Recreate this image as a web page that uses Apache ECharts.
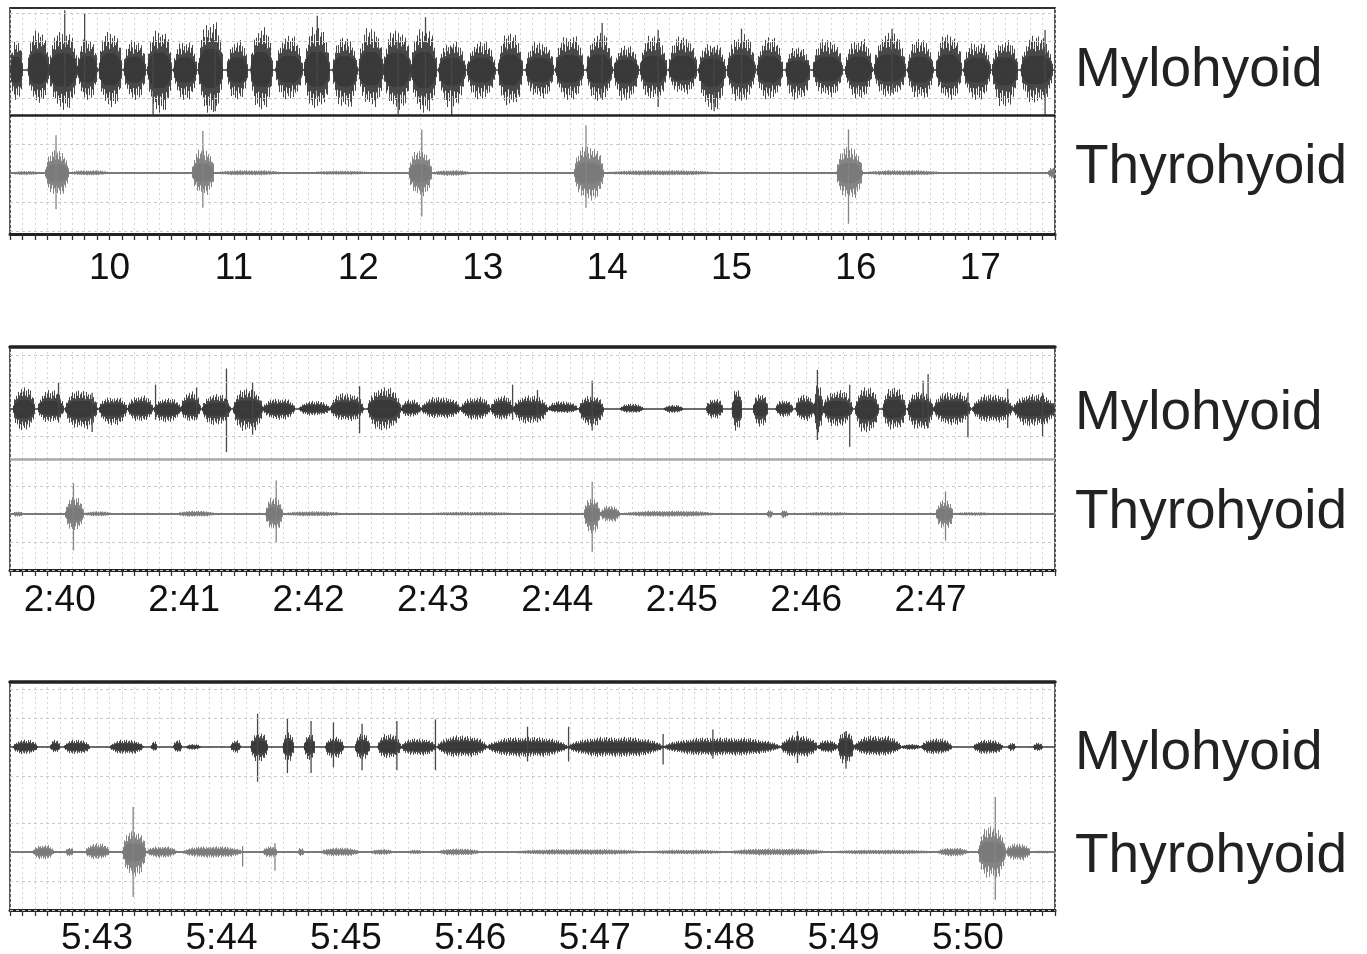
<!DOCTYPE html>
<html>
<head>
<meta charset="utf-8">
<script src="https://cdn.jsdelivr.net/npm/echarts@6/dist/echarts.min.js"></script>
<style>
  html, body { margin: 0; background: #fff; }
  #main { width: 1367px; height: 954px; }
</style>
</head>
<body>
<div id="main"></div>
<script>
// muscle names shown at the right of every panel
var channels = ['Mylohyoid', 'Thyrohyoid']

// tick labels (seconds) for each panel
var p1TickValues = [10, 11, 12, 13, 14, 15, 16, 17]
var p1TickLabels = ['10', '11', '12', '13', '14', '15', '16', '17']
var p2TickValues = [160, 161, 162, 163, 164, 165, 166, 167]
var p2TickLabels = ['2:40', '2:41', '2:42', '2:43', '2:44', '2:45', '2:46', '2:47']
var p3TickValues = [343, 344, 345, 346, 347, 348, 349, 350]
var p3TickLabels = ['5:43', '5:44', '5:45', '5:46', '5:47', '5:48', '5:49', '5:50']

// EMG activity: [start s, end s, amplitude up, amplitude down]
var p1MyloBursts = [
  [9.20, 9.30, 1.1, 1.05], [9.34, 9.51, 1.45, 1.15], [9.51, 9.74, 1.4, 1.4], [9.74, 9.90, 1.15, 1.05],
  [9.91, 10.10, 1.4, 1.3], [10.11, 10.29, 1.1, 1.05], [10.30, 10.50, 1.45, 1.5], [10.51, 10.70, 1.05, 1.05],
  [10.71, 10.91, 1.75, 1.5], [10.94, 11.11, 1.05, 1.05], [11.13, 11.31, 1.5, 1.4], [11.33, 11.55, 1.2, 1.05],
  [11.56, 11.77, 1.5, 1.4], [11.79, 11.99, 1.15, 1.4], [12.00, 12.20, 1.5, 1.3], [12.20, 12.42, 1.45, 1.4],
  [12.42, 12.63, 1.5, 1.5], [12.64, 12.86, 1.0, 1.3], [12.87, 13.10, 1.0, 1.05], [13.12, 13.32, 1.3, 1.3],
  [13.34, 13.57, 1.0, 1.0], [13.58, 13.81, 1.25, 1.05], [13.83, 14.04, 1.3, 1.1], [14.05, 14.25, 0.85, 1.1],
  [14.26, 14.48, 1.2, 1.05], [14.49, 14.72, 1.2, 0.85], [14.73, 14.95, 0.95, 1.4], [14.96, 15.19, 1.25, 1.1],
  [15.20, 15.41, 1.15, 1.05], [15.43, 15.63, 0.8, 1.1], [15.65, 15.89, 1.1, 0.95], [15.91, 16.13, 1.1, 1.0],
  [16.14, 16.40, 1.3, 0.95], [16.41, 16.62, 1.1, 1.05], [16.64, 16.85, 1.3, 1.05], [16.86, 17.08, 1.0, 1.05],
  [17.09, 17.30, 1.05, 1.3], [17.32, 17.58, 1.2, 1.2]
]
// single large spikes: [time s, up, down]
var p1MyloSpikes = [
  [9.64, 2.1, 0.9], [9.80, 2.0, 0.8], [10.35, 0.9, 1.55], [10.85, 1.0, 1.45], [11.67, 1.9, 0.9],
  [12.32, 1.0, 1.55], [12.54, 1.85, 1.0], [12.75, 0.8, 1.6], [13.96, 1.65, 1.0], [14.41, 1.4, 1.3],
  [14.86, 0.8, 1.45], [15.08, 1.45, 1.0], [16.29, 1.45, 0.8], [17.52, 1.4, 1.6]
]
var p1ThyroBursts = [
  [9.20, 9.45, 0.07, 0.07], [9.48, 9.67, 0.8, 0.8], [9.67, 10.00, 0.1, 0.08], [10.66, 10.84, 0.85, 0.75],
  [10.84, 11.40, 0.1, 0.08], [11.60, 12.10, 0.08, 0.06], [12.40, 12.59, 0.8, 0.8], [12.59, 12.90, 0.1, 0.1],
  [13.73, 13.97, 0.95, 0.95], [13.97, 14.90, 0.1, 0.08], [15.84, 16.05, 0.9, 0.9], [16.05, 16.70, 0.1, 0.08],
  [17.54, 17.60, 0.2, 0.2]
]
var p1ThyroSpikes = [[9.57, 1.3, 1.25], [10.75, 1.45, 1.2], [12.51, 1.5, 1.5], [13.83, 1.65, 1.2], [15.94, 1.5, 1.75]]

var p2MyloBursts = [
  [159.62, 159.80, 0.8, 0.8], [159.82, 160.03, 0.7, 0.5], [160.04, 160.30, 0.7, 0.75], [160.31, 160.54, 0.45, 0.6],
  [160.54, 160.75, 0.5, 0.45], [160.75, 160.97, 0.4, 0.5], [160.97, 161.13, 0.65, 0.45], [161.14, 161.37, 0.55, 0.6],
  [161.39, 161.63, 0.75, 0.85], [161.63, 161.89, 0.4, 0.4], [161.92, 162.17, 0.3, 0.25], [162.17, 162.44, 0.6, 0.45],
  [162.47, 162.74, 0.8, 0.8], [162.74, 162.90, 0.35, 0.3], [162.90, 163.22, 0.45, 0.35], [163.22, 163.46, 0.45, 0.4],
  [163.46, 163.64, 0.5, 0.4], [163.64, 163.92, 0.5, 0.55], [163.92, 164.16, 0.3, 0.15], [164.17, 164.37, 0.5, 0.65],
  [164.50, 164.69, 0.2, 0.15], [164.85, 165.01, 0.15, 0.15], [165.19, 165.33, 0.4, 0.35], [165.40, 165.48, 0.8, 0.8],
  [165.57, 165.69, 0.6, 0.65], [165.75, 165.89, 0.35, 0.3], [165.91, 166.06, 0.55, 0.45], [166.06, 166.13, 0.9, 0.9],
  [166.13, 166.37, 0.7, 0.65], [166.39, 166.58, 0.8, 0.9], [166.61, 166.80, 0.8, 0.8], [166.81, 167.02, 0.65, 0.8],
  [167.02, 167.32, 0.65, 0.6], [167.33, 167.66, 0.55, 0.5], [167.66, 168.00, 0.55, 0.65]
]
var p2MyloSpikes = [
  [159.99, 1.0, 0.5], [160.26, 0.6, 0.85], [160.77, 0.9, 0.4], [161.10, 0.8, 0.4], [161.34, 1.5, 1.6],
  [161.55, 1.0, 0.95], [162.41, 0.85, 0.9], [163.64, 0.9, 0.4], [163.84, 0.7, 0.5], [164.28, 1.05, 0.8],
  [166.09, 1.45, 1.15], [166.35, 0.9, 1.4], [166.94, 1.05, 0.6], [166.98, 1.3, 0.7], [167.30, 0.6, 1.05],
  [167.62, 0.75, 0.7], [167.90, 0.6, 1.0]
]
var p2ThyroBursts = [
  [159.62, 159.70, 0.1, 0.1], [160.04, 160.19, 0.6, 0.6], [160.19, 160.42, 0.1, 0.08], [160.93, 161.25, 0.12, 0.1],
  [161.65, 161.79, 0.6, 0.6], [161.79, 162.28, 0.1, 0.08], [162.93, 163.70, 0.08, 0.06], [164.21, 164.34, 0.6, 0.7],
  [164.34, 164.50, 0.3, 0.3], [164.50, 165.29, 0.12, 0.1], [165.68, 165.73, 0.15, 0.15], [165.79, 165.85, 0.15, 0.15],
  [165.93, 166.40, 0.07, 0.06], [167.04, 167.18, 0.5, 0.55], [167.18, 167.50, 0.07, 0.06]
]
var p2ThyroSpikes = [[160.11, 1.1, 1.3], [161.74, 1.2, 1.0], [164.28, 1.15, 1.35], [167.12, 0.8, 0.95]]

var p3MyloBursts = [
  [342.32, 342.52, 0.25, 0.25], [342.62, 342.70, 0.25, 0.2], [342.73, 342.94, 0.25, 0.25], [343.10, 343.37, 0.25, 0.25],
  [343.43, 343.48, 0.2, 0.15], [343.61, 343.68, 0.25, 0.2], [343.71, 343.83, 0.1, 0.1], [344.07, 344.15, 0.25, 0.2],
  [344.23, 344.37, 0.5, 0.5], [344.49, 344.58, 0.5, 0.5], [344.66, 344.75, 0.45, 0.45], [344.83, 344.98, 0.35, 0.4],
  [345.07, 345.19, 0.45, 0.45], [345.25, 345.44, 0.45, 0.4], [345.44, 345.72, 0.3, 0.3], [345.73, 346.13, 0.4, 0.35],
  [346.13, 346.78, 0.35, 0.35], [346.78, 347.55, 0.35, 0.35], [347.55, 348.49, 0.33, 0.3], [348.49, 348.79, 0.4, 0.35],
  [348.79, 348.95, 0.25, 0.2], [348.95, 349.08, 0.55, 0.6], [349.08, 349.46, 0.4, 0.3], [349.46, 349.62, 0.1, 0.1],
  [349.62, 349.87, 0.3, 0.25], [350.04, 350.28, 0.25, 0.25], [350.32, 350.38, 0.15, 0.15], [350.52, 350.60, 0.15, 0.15]
]
var p3MyloSpikes = [
  [344.29, 1.15, 1.2], [344.53, 1.0, 0.9], [344.72, 0.9, 0.9], [344.90, 0.85, 0.7], [345.13, 0.8, 0.8],
  [345.41, 0.9, 0.8], [345.72, 0.95, 0.8], [346.46, 0.7, 0.5], [346.79, 0.7, 0.5], [347.55, 0.45, 0.6],
  [347.95, 0.6, 0.4], [348.63, 0.55, 0.55], [349.02, 0.55, 0.75]
]
var p3ThyroBursts = [
  [342.48, 342.65, 0.25, 0.25], [342.74, 342.81, 0.15, 0.15], [342.90, 343.10, 0.3, 0.25], [343.20, 343.39, 0.75, 0.85],
  [343.39, 343.64, 0.2, 0.2], [343.68, 344.17, 0.2, 0.2], [344.33, 344.45, 0.2, 0.2], [344.61, 344.66, 0.15, 0.15],
  [344.79, 345.11, 0.15, 0.15], [345.19, 345.38, 0.1, 0.1], [345.49, 345.62, 0.08, 0.08], [345.73, 346.08, 0.12, 0.12],
  [346.32, 347.42, 0.1, 0.1], [347.42, 348.06, 0.08, 0.08], [348.06, 348.87, 0.12, 0.12], [348.87, 349.75, 0.08, 0.08],
  [349.75, 350.00, 0.15, 0.15], [350.08, 350.30, 0.9, 0.95], [350.30, 350.50, 0.3, 0.3], [350.50, 350.69, 0.05, 0.05]
]
var p3ThyroSpikes = [[343.29, 1.55, 1.55], [344.17, 0.2, 0.5], [344.43, 0.3, 0.65], [350.22, 1.9, 1.65]]

// layout of the three panels (pixels and axis ranges)
var panels = [
  { top: 8, height: 226, xMin: 9.2, xMax: 17.6, myloY: [-5.754, 2.175], thyroY: [-2.103, 5.69],
    sep: -1.58, sepColor: '#222', topWidth: 1.5, labelMargin: 16, myloText: 71, thyroText: 168,
    ticks: p1TickValues, labels: p1TickLabels,
    mylo: p1MyloBursts, myloSpikes: p1MyloSpikes, thyro: p1ThyroBursts, thyroSpikes: p1ThyroSpikes },
  { top: 347, height: 223, xMin: 159.6, xMax: 168.0, myloY: [-5.963, 2.296], thyroY: [-2.0, 5.964],
    sep: -1.85, sepColor: '#a8a8a8', topWidth: 3.5, labelMargin: 12, myloText: 414, thyroText: 513,
    ticks: p2TickValues, labels: p2TickLabels,
    mylo: p2MyloBursts, myloSpikes: p2MyloSpikes, thyro: p2ThyroBursts, thyroSpikes: p2ThyroSpikes },
  { top: 682, height: 228, xMin: 342.3, xMax: 350.7, myloY: [-5.621, 2.241], thyroY: [-2.0, 5.862],
    sep: null, sepColor: null, topWidth: 3.5, labelMargin: 10, myloText: 754, thyroText: 857,
    ticks: p3TickValues, labels: p3TickLabels,
    mylo: p3MyloBursts, myloSpikes: p3MyloSpikes, thyro: p3ThyroBursts, thyroSpikes: p3ThyroSpikes }
]

var myloColors = { line: '#484848', core: '#393939', base: '#3c3c3c', coreSize: 0.42 }
var thyroColors = { line: '#858585', core: '#7a7a7a', base: '#7a7a7a', coreSize: 0.38 }

// fixed stroke-length texture so the envelope edge looks like a raw EMG trace
var texture = [1.0, 0.62, 0.84, 0.55, 0.93, 0.7, 0.98, 0.58, 0.78, 0.88, 0.6, 0.95, 0.72, 0.52, 0.9, 0.66, 0.8, 0.57, 0.86, 0.64, 0.75, 0.92, 0.6, 0.82]

function envelope (u) {
  return Math.min(1, Math.sqrt(Math.max(0, Math.sin(Math.PI * u))) * 1.1)
}

function burstRenderer (colors) {
  return function (params, api) {
    var t0 = api.value(0)
    var t1 = api.value(1)
    var up = api.value(2)
    var dn = api.value(3)
    var x0 = api.coord([t0, 0])[0]
    var x1 = api.coord([t1, 0])[0]
    var y0 = api.coord([t0, 0])[1]
    var unit = y0 - api.coord([t0, 1])[1]
    var span = Math.max(x1 - x0, 1)
    var path = ''
    // one crisp 1px stroke per pixel column
    for (var px = Math.ceil(x0); px <= Math.floor(x1); px++) {
      var env = envelope((px - x0) / span)
      var a = texture[px % texture.length]
      var b = texture[(px + 9) % texture.length]
      var xs = (px + 0.5).toFixed(1)
      path += 'M' + xs + ' ' + (y0 - up * unit * env * a).toFixed(1) +
        'L' + xs + ' ' + (y0 + dn * unit * env * b).toFixed(1)
    }
    var top = []
    var bottom = []
    var steps = 12
    for (var s = 0; s <= steps; s++) {
      var u = s / steps
      var e = envelope(u) * colors.coreSize
      top.push([x0 + span * u, y0 - up * unit * e])
      bottom.unshift([x0 + span * u, y0 + dn * unit * e])
    }
    return {
      type: 'group',
      children: [
        { type: 'path', shape: { pathData: path || 'M0 0' }, style: { stroke: colors.line, lineWidth: 1, fill: null } },
        { type: 'polygon', shape: { points: top.concat(bottom) }, style: { fill: colors.core } }
      ]
    }
  }
}

function spikeRenderer (colors) {
  return function (params, api) {
    var a = api.coord([api.value(0), api.value(1)])
    var b = api.coord([api.value(0), -api.value(2)])
    return {
      type: 'line',
      shape: { x1: a[0], y1: a[1], x2: b[0], y2: b[1] },
      style: { stroke: colors.line, lineWidth: 1.3 }
    }
  }
}

function guide (values) {
  return values.map(function (v) {
    return { yAxis: v, lineStyle: { color: '#c9c9c9', type: [3, 3], width: 1 } }
  })
}

var grids = []
var xAxes = []
var yAxes = []
var series = []
var texts = []

panels.forEach(function (p, i) {
  grids.push({ left: 10, width: 1045, top: p.top, height: p.height, show: true,
    borderColor: '#222', borderWidth: 1.5, outerBoundsMode: 'none' })
  var ticks = p.ticks
  var labels = p.labels
  xAxes.push({
    type: 'value', gridIndex: i, min: p.xMin, max: p.xMax, interval: 0.1, position: 'bottom',
    axisLine: { onZero: false, lineStyle: { color: '#222', width: 3 } },
    axisTick: { show: true, length: 6, lineStyle: { color: '#333', width: 1.3 } },
    splitLine: { show: true, lineStyle: { color: '#d4d4d4', type: [2, 3], width: 1 } },
    axisLabel: {
      margin: p.labelMargin, fontSize: 37, color: '#111', fontFamily: 'Liberation Sans, Arial, sans-serif',
      showMinLabel: true, showMaxLabel: true,
      formatter: function (v) {
        for (var k = 0; k < ticks.length; k++) {
          if (Math.abs(v - ticks[k]) < 1e-6) return labels[k]
        }
        return ''
      }
    }
  })
  xAxes.push({
    type: 'value', gridIndex: i, min: p.xMin, max: p.xMax, position: 'top',
    axisLine: { onZero: false, lineStyle: { color: '#222', width: p.topWidth } },
    axisTick: { show: false }, axisLabel: { show: false }, splitLine: { show: false }
  })
  yAxes.push({ type: 'value', gridIndex: i, min: p.myloY[0], max: p.myloY[1], show: false, splitLine: { show: false } })
  yAxes.push({ type: 'value', gridIndex: i, min: p.thyroY[0], max: p.thyroY[1], show: false, splitLine: { show: false } })

  var xi = i * 2
  var ym = i * 2
  var yt = i * 2 + 1

  // dashed level lines
  series.push({ type: 'line', xAxisIndex: xi, yAxisIndex: ym, data: [], z: 1, silent: true,
    markLine: { symbol: 'none', silent: true, animation: false, label: { show: false }, data: guide([2, 1, -1]) } })
  series.push({ type: 'line', xAxisIndex: xi, yAxisIndex: yt, data: [], z: 1, silent: true,
    markLine: { symbol: 'none', silent: true, animation: false, label: { show: false }, data: guide([1, -1, -2]) } })
  // baselines
  series.push({ type: 'line', xAxisIndex: xi, yAxisIndex: ym, data: [], z: 2, silent: true,
    markLine: { symbol: 'none', silent: true, animation: false, label: { show: false },
      data: [{ yAxis: 0, lineStyle: { color: myloColors.base, type: 'solid', width: 1.6 } }] } })
  series.push({ type: 'line', xAxisIndex: xi, yAxisIndex: yt, data: [], z: 2, silent: true,
    markLine: { symbol: 'none', silent: true, animation: false, label: { show: false },
      data: [{ yAxis: 0, lineStyle: { color: thyroColors.base, type: 'solid', width: 2 } }] } })

  series.push({ name: channels[0], type: 'custom', xAxisIndex: xi, yAxisIndex: ym, z: 3, clip: true,
    renderItem: burstRenderer(myloColors), data: p.mylo, encode: { x: [0, 1], y: [2, 3] }, animation: false })
  series.push({ name: channels[0], type: 'custom', xAxisIndex: xi, yAxisIndex: ym, z: 3, clip: true,
    renderItem: spikeRenderer(myloColors), data: p.myloSpikes, encode: { x: 0, y: [1, 2] }, animation: false })
  series.push({ name: channels[1], type: 'custom', xAxisIndex: xi, yAxisIndex: yt, z: 3, clip: true,
    renderItem: burstRenderer(thyroColors), data: p.thyro, encode: { x: [0, 1], y: [2, 3] }, animation: false })
  series.push({ name: channels[1], type: 'custom', xAxisIndex: xi, yAxisIndex: yt, z: 3, clip: true,
    renderItem: spikeRenderer(thyroColors), data: p.thyroSpikes, encode: { x: 0, y: [1, 2] }, animation: false })

  if (p.sep !== null) {
    series.push({ type: 'line', xAxisIndex: xi, yAxisIndex: ym, data: [], z: 6, silent: true,
      markLine: { symbol: 'none', silent: true, animation: false, label: { show: false },
        data: [{ yAxis: p.sep, lineStyle: { color: p.sepColor, type: 'solid', width: 2.5 } }] } })
  }

  texts.push({ type: 'text', x: 1075, y: p.myloText,
    style: { text: channels[0], font: '55px "Liberation Sans", Arial, sans-serif', fill: '#222', verticalAlign: 'middle' } })
  texts.push({ type: 'text', x: 1075, y: p.thyroText,
    style: { text: channels[1], font: '55px "Liberation Sans", Arial, sans-serif', fill: '#222', verticalAlign: 'middle' } })
})

var myChart = echarts.init(document.getElementById('main'))
myChart.setOption({
  backgroundColor: '#fff',
  animation: false,
  grid: grids,
  xAxis: xAxes,
  yAxis: yAxes,
  series: series,
  graphic: texts
})
</script>
</body>
</html>
